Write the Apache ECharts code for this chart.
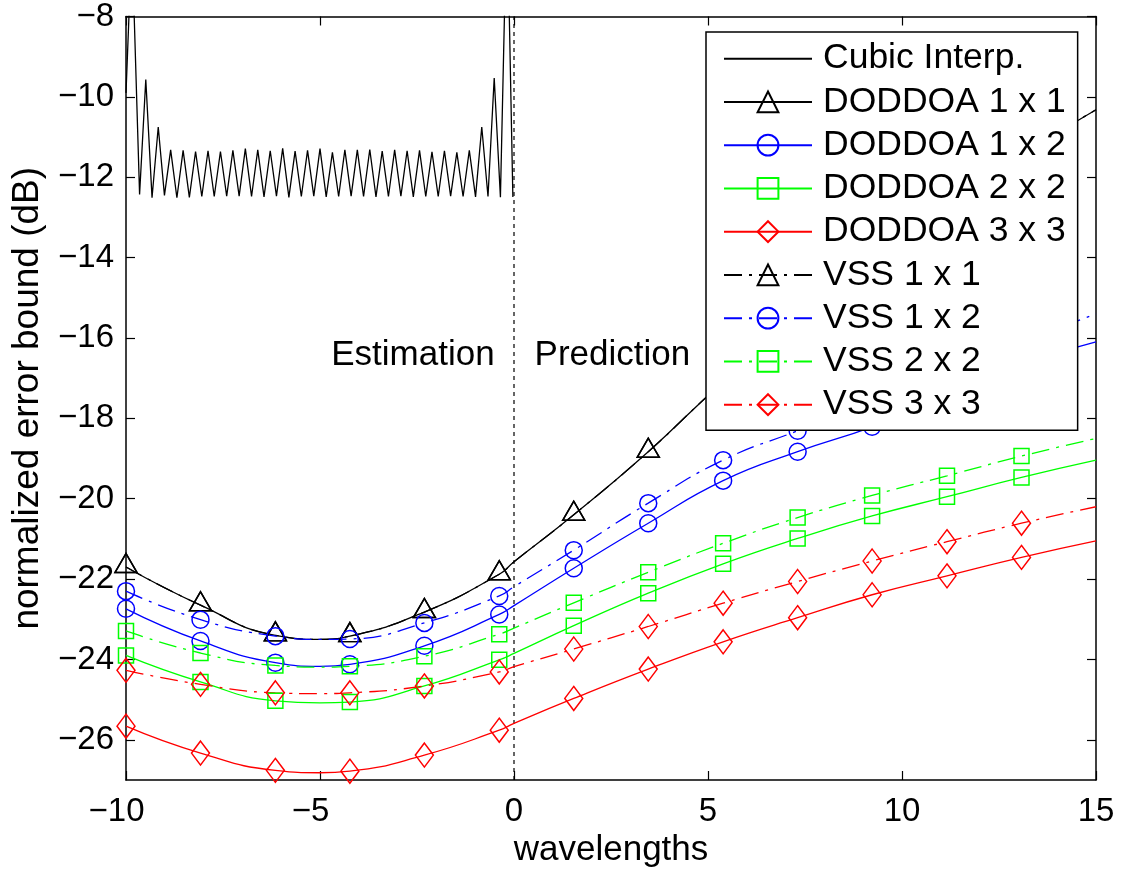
<!DOCTYPE html>
<html><head><meta charset="utf-8">
<script src="https://cdn.jsdelivr.net/npm/echarts@6/dist/echarts.min.js"></script>
<style>html,body{margin:0;padding:0;background:#fff}#c{width:1122px;height:874px}</style>
</head><body><div id="c"></div>
<script>
// ---------------- data ----------------
const xTicks = [-10, -5, 0, 5, 10, 15];
const yTicks = [-26, -24, -22, -20, -18, -16, -14, -12, -10, -8];
const xMin = -10, xMax = 15, yMin = -27, yMax = -8;

const markerX = [-10, -8.08, -6.15, -4.23, -2.31, -0.38, 1.54, 3.46, 5.39, 7.31, 9.23, 11.16, 13.08];
const lineX   = [-10, -8.08, -6.15, -5, -4.23, -2.31, -0.38, 0, 1.54, 3.46, 5.39, 7.31, 9.23, 11.16, 13.08, 15];

const doddoa11 = [-21.70, -22.65, -23.40, -23.50, -23.42, -22.82, -21.88, -21.57, -20.40, -18.83, -17.10, -15.60, -14.10, -12.70, -11.45, -10.32];
const doddoa12 = [-22.74, -23.54, -24.08, -24.17, -24.12, -23.66, -22.88, -22.66, -21.73, -20.61, -19.55, -18.83, -18.21, -17.45, -16.68, -16.10];
const doddoa22 = [-23.90, -24.56, -25.03, -25.08, -25.06, -24.66, -24.01, -23.85, -23.16, -22.35, -21.62, -20.99, -20.43, -19.95, -19.47, -19.04];
const doddoa33 = [-25.66, -26.33, -26.76, -26.82, -26.78, -26.38, -25.76, -25.59, -24.97, -24.24, -23.56, -22.96, -22.39, -21.92, -21.46, -21.05];
const vss11    = [-21.70, -22.65, -23.40, -23.50, -23.42, -22.82, -21.88, -21.57, -20.40, -18.83, -17.10, -15.60, -14.10, -12.70, -11.45, -10.32];
const vss12    = [-22.30, -23.01, -23.42, -23.50, -23.49, -23.09, -22.42, -22.19, -21.28, -20.11, -19.04, -18.31, -17.60, -16.88, -16.12, -15.40];
const vss22    = [-23.29, -23.84, -24.15, -24.19, -24.17, -23.92, -23.37, -23.22, -22.59, -21.83, -21.11, -20.47, -19.92, -19.43, -18.94, -18.50];
const vss33    = [-24.27, -24.62, -24.83, -24.85, -24.83, -24.66, -24.31, -24.18, -23.74, -23.18, -22.60, -22.06, -21.55, -21.07, -20.61, -20.20];

const cubicX = [-10.000, -9.848, -9.650, -9.490, -9.329, -9.169, -9.009, -8.849, -8.688, -8.528, -8.367, -8.207,
  -8.046, -7.886, -7.726, -7.566, -7.405, -7.245, -7.084, -6.924, -6.764, -6.604, -6.443, -6.283, -6.122, -5.962,
  -5.802, -5.642, -5.481, -5.321, -5.160, -5.000, -4.840, -4.680, -4.519, -4.359, -4.198, -4.038, -3.877, -3.717,
  -3.557, -3.397, -3.236, -3.076, -2.915, -2.755, -2.595, -2.435, -2.274, -2.114, -1.953, -1.793, -1.633, -1.473,
  -1.312, -1.152, -0.991, -0.831, -0.670, -0.510, -0.350, -0.180, -0.029];
const cubicY = [-9.9, -6.1, -12.43, -9.57, -12.51, -10.75, -12.45, -11.32, -12.51, -11.33, -12.50, -11.36,
  -12.48, -11.34, -12.48, -11.36, -12.47, -11.33, -12.47, -11.29, -12.48, -11.32, -12.49, -11.34, -12.47, -11.28,
  -12.50, -11.35, -12.48, -11.33, -12.47, -11.29, -12.49, -11.38, -12.48, -11.32, -12.47, -11.32, -12.48, -11.31,
  -12.49, -11.35, -12.48, -11.32, -12.47, -11.34, -12.49, -11.33, -12.48, -11.37, -12.48, -11.34, -12.47, -11.38,
  -12.48, -11.33, -12.49, -10.75, -12.48, -9.53, -12.50, -5.1, -12.49];

const boundaryX = 0;
const noteText = ['Estimation', 'Prediction'];
const noteX = [-0.50, 0.53];
const noteY = [-16.43, -16.43];

// ---------------- chart ----------------
const FONT = '"Liberation Sans", Arial, Helvetica, sans-serif';
const DASHDOT = [18, 7, 3, 7];
const BLACK = '#000000', BLUE = '#0000ff', GREEN = '#00ff00', RED = '#ff0000';
const TICK_FS = 33;
const MINUS_W = Math.round(0.584 * TICK_FS);

function pts(values) {
  return lineX.map((x, i) => markerX.includes(x) ? [x, values[i]] : { value: [x, values[i]], symbol: 'none' });
}
function curve(name, values, color, symbol, size, dashed, offset) {
  return {
    name, type: 'line', data: pts(values), smooth: 0.5,
    symbol, symbolSize: size, symbolOffset: offset || [0, 0], showSymbol: true, showAllSymbol: true,
    lineStyle: { color, width: 1.3, type: dashed ? DASHDOT : 'solid' },
    itemStyle: { color: 'rgba(255,255,255,0)', borderColor: color, borderWidth: 1.5 },
    emphasis: { disabled: true }, z: 3
  };
}

const series = [
  {
    name: 'Cubic Interp.', type: 'line', data: cubicX.map((x, i) => [x, cubicY[i]]),
    symbol: 'none', lineStyle: { color: BLACK, width: 1.3 }, itemStyle: { color: BLACK },
    emphasis: { disabled: true }, z: 3, clip: true
  },
  curve('DODDOA 1 x 1', doddoa11, BLACK, 'triangle', [22, 19], false, [0, -4]),
  curve('DODDOA 1 x 2', doddoa12, BLUE, 'circle', 17, false),
  curve('DODDOA 2 x 2', doddoa22, GREEN, 'rect', 15, false),
  curve('DODDOA 3 x 3', doddoa33, RED, 'diamond', [18, 24], false),
  curve('VSS 1 x 1', vss11, BLACK, 'triangle', [22, 19], true, [0, -4]),
  curve('VSS 1 x 2', vss12, BLUE, 'circle', 17, true),
  curve('VSS 2 x 2', vss22, GREEN, 'rect', 15, true),
  curve('VSS 3 x 3', vss33, RED, 'diamond', [18, 24], true),
  {
    name: 'boundary', type: 'line', data: [[boundaryX, yMin], [boundaryX, yMax]], symbol: 'none',
    lineStyle: { color: BLACK, width: 1.2, type: [4, 4] }, emphasis: { disabled: true }, z: 2
  },
  {
    name: 'notes', type: 'scatter', symbolSize: 0, itemStyle: { opacity: 1 },
    data: noteText.map((t, i) => ({ name: t, value: [noteX[i], noteY[i]],
      label: { position: i === 0 ? 'left' : 'right' } })),
    label: { show: true, formatter: '{b}', distance: 0, fontSize: 35, fontFamily: FONT, color: BLACK, opacity: 1 },
    emphasis: { disabled: true }, z: 4
  }
];

const axisLineStyle = { color: BLACK, width: 1.5 };
const tickStyle = { inside: true, length: 9, lineStyle: { color: BLACK, width: 1.2 } };

const option = {
  animation: false,
  backgroundColor: '#ffffff',
  grid: { left: 126, right: 26, top: 16, bottom: 94, show: false },
  xAxis: [
    {
      type: 'value', min: xMin, max: xMax, interval: 5, position: 'bottom',
      axisLine: { onZero: false, lineStyle: axisLineStyle },
      axisTick: tickStyle, splitLine: { show: false },
      axisLabel: {
        fontSize: TICK_FS, fontFamily: FONT, color: BLACK, margin: 15, customValues: xTicks,
        formatter: v => v < 0 ? '{t|\u2212' + Math.abs(v) + '}{p| }' : '{t|' + v + '}',
        rich: { t: { fontSize: TICK_FS, fontFamily: FONT, color: BLACK }, p: { width: MINUS_W, fontSize: TICK_FS } }
      },
      name: 'wavelengths', nameLocation: 'middle', nameGap: 52,
      nameTextStyle: { fontSize: 35, fontFamily: FONT, color: BLACK }
    },
    {
      type: 'value', min: xMin, max: xMax, interval: 5, position: 'top',
      axisLine: { onZero: false, lineStyle: axisLineStyle },
      axisTick: tickStyle, splitLine: { show: false }, axisLabel: { show: false }
    }
  ],
  yAxis: [
    {
      type: 'value', min: yMin, max: yMax, position: 'left',
      axisLine: { onZero: false, lineStyle: axisLineStyle },
      axisTick: Object.assign({ customValues: yTicks }, tickStyle), splitLine: { show: false },
      axisLabel: { fontSize: TICK_FS, fontFamily: FONT, color: BLACK, margin: 12,
        formatter: v => String(v).replace('-', '\u2212'), customValues: yTicks },
      name: 'normalized error bound (dB)', nameLocation: 'middle', nameGap: 80,
      nameTextStyle: { fontSize: 37, fontFamily: FONT, color: BLACK }
    },
    {
      type: 'value', min: yMin, max: yMax, position: 'right',
      axisLine: { onZero: false, lineStyle: axisLineStyle },
      axisTick: Object.assign({ customValues: yTicks }, tickStyle), splitLine: { show: false },
      axisLabel: { show: false }
    }
  ],
  legend: {
    orient: 'vertical', left: 706, top: 32, padding: [5, 12, 4, 17],
    itemWidth: 88, itemHeight: 26, itemGap: 0,
    backgroundColor: '#ffffff', borderColor: BLACK, borderWidth: 1.5, borderRadius: 0,
    selectedMode: false,
    textStyle: { fontSize: 35.5, fontFamily: FONT, color: BLACK, lineHeight: 43.25, padding: [0, 0, 0, 6] },
    data: [
      { name: 'Cubic Interp.', itemStyle: { opacity: 0 } },
      'DODDOA 1 x 1', 'DODDOA 1 x 2', 'DODDOA 2 x 2', 'DODDOA 3 x 3',
      'VSS 1 x 1', 'VSS 1 x 2', 'VSS 2 x 2', 'VSS 3 x 3'
    ]
  },
  series
};

const chart = echarts.init(document.getElementById('c'));
chart.setOption(option);
</script>
</body></html>
